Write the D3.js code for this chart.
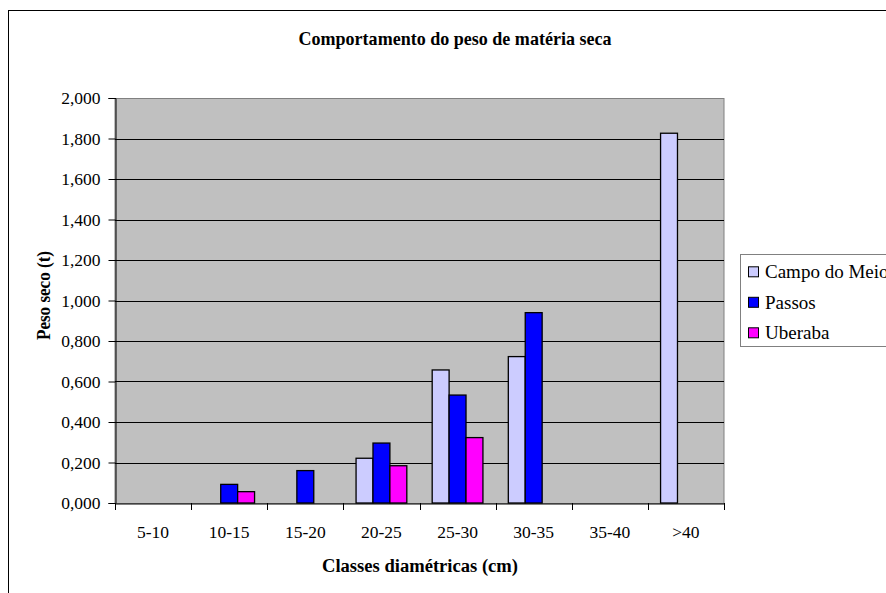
<!DOCTYPE html>
<html>
<head>
<meta charset="utf-8">
<script src="https://cdn.jsdelivr.net/npm/d3@7"></script>
<style>
  html, body { margin: 0; padding: 0; background: #fff; }
  svg { display: block; }
  svg text { font-family: "Liberation Serif", "DejaVu Serif", serif !important; }
</style>
</head>
<body>
<svg id="chart" width="886" height="593"></svg>
<script>
// Diameter classes and dry-matter weight (t) per site
const categories = ["5-10", "10-15", "15-20", "20-25", "25-30", "30-35", "35-40", ">40"];
const seriesNames = ["Campo do Meio", "Passos", "Uberaba"];
const campoDoMeio = [0, 0, 0, 0.221, 0.657, 0.723, 0, 1.826];
const passos      = [0, 0.092, 0.160, 0.296, 0.533, 0.940, 0, 0];
const uberaba     = [0, 0.056, 0, 0.184, 0.323, 0, 0, 0];
const yTicks = [0, 0.2, 0.4, 0.6, 0.8, 1.0, 1.2, 1.4, 1.6, 1.8, 2.0];
const colors = ["#CCCCFF", "#0000FF", "#FF00FF"];

const values = [campoDoMeio, passos, uberaba];

const svg = d3.select("#chart");

// outer chart frame
svg.append("rect")
  .attr("x", 8.5).attr("y", 10.5)
  .attr("width", 900).attr("height", 700)
  .attr("fill", "#fff").attr("stroke", "#000").attr("stroke-width", 1);

const plot = { left: 115, right: 724, top: 98, bottom: 503 };

const x = d3.scaleBand().domain(categories).range([plot.left, plot.right]);
const y = d3.scaleLinear().domain([0, 2]).range([plot.bottom, plot.top]);

// gap between groups is 1.5 bar widths
const barW = x.bandwidth() / (seriesNames.length + 1.5);
const xs = d3.scaleBand().domain(seriesNames)
  .range([0, barW * seriesNames.length]);

// plot background
svg.append("rect")
  .attr("x", plot.left).attr("y", plot.top + 0.5)
  .attr("width", plot.right - plot.left).attr("height", plot.bottom - plot.top)
  .attr("fill", "#C0C0C0").attr("stroke", "#808080").attr("stroke-width", 1);

// horizontal gridlines
svg.append("g").selectAll("line").data(yTicks.filter(d => d > 0 && d < 2))
  .join("line")
  .attr("x1", plot.left).attr("x2", plot.right)
  .attr("y1", d => Math.round(y(d)) + 0.5).attr("y2", d => Math.round(y(d)) + 0.5)
  .attr("stroke", "#000").attr("stroke-width", 1);

// bars
const groupOffset = (x.bandwidth() - barW * seriesNames.length) / 2;
seriesNames.forEach((name, si) => {
  svg.append("g").selectAll("rect")
    .data(categories.map((c, i) => ({ c, v: values[si][i] })).filter(d => d.v > 0))
    .join("rect")
    .attr("x", d => x(d.c) + groupOffset + xs(name))
    .attr("y", d => y(d.v))
    .attr("width", barW)
    .attr("height", d => y(0) - y(d.v))
    .attr("fill", colors[si])
    .attr("stroke", "#000")
    .attr("stroke-width", 1.3);
});

// y axis (decimal comma)
const yAxis = d3.axisLeft(y).tickValues(yTicks)
  .tickFormat(d => d.toFixed(3).replace(".", ","))
  .tickSize(7).tickPadding(8);
const gy = svg.append("g").attr("transform", `translate(${plot.left + 0.5},0)`).call(yAxis);
gy.selectAll("text").style("font-size", "17.5px");
gy.select(".domain").attr("stroke", "#000");
gy.selectAll(".tick line").attr("stroke", "#000");

// x axis
const xAxis = d3.axisBottom(x).tickSize(0).tickPadding(22.5);
const gx = svg.append("g").attr("transform", `translate(0,${plot.bottom + 0.5})`).call(xAxis);
gx.selectAll("text").style("font-size", "17.5px");
gx.select(".domain").attr("stroke", "#000");
// category boundary ticks
svg.append("g").selectAll("line")
  .data(categories.concat([null]))
  .join("line")
  .attr("x1", (d, i) => Math.round(i < categories.length ? x(d) : plot.right) + 0.5)
  .attr("x2", (d, i) => Math.round(i < categories.length ? x(d) : plot.right) + 0.5)
  .attr("y1", plot.bottom).attr("y2", plot.bottom + 7)
  .attr("stroke", "#000");

// titles
svg.append("text")
  .attr("x", 455).attr("y", 45)
  .attr("text-anchor", "middle")
  .attr("textLength", 313).attr("lengthAdjust", "spacingAndGlyphs")
  .style("font-size", "19px").style("font-weight", "bold")
  .text("Comportamento do peso de matéria seca");

svg.append("text")
  .attr("x", 420).attr("y", 572)
  .attr("text-anchor", "middle")
  .attr("textLength", 196).attr("lengthAdjust", "spacingAndGlyphs")
  .style("font-size", "18.5px").style("font-weight", "bold")
  .text("Classes diamétricas (cm)");

svg.append("text")
  .attr("transform", "translate(49.5,295.5) rotate(-90)")
  .attr("text-anchor", "middle")
  .attr("textLength", 89).attr("lengthAdjust", "spacingAndGlyphs")
  .style("font-size", "18.5px").style("font-weight", "bold")
  .text("Peso seco (t)");

// legend
const legend = svg.append("g");
legend.append("rect")
  .attr("x", 740.5).attr("y", 254.5).attr("width", 200).attr("height", 92)
  .attr("fill", "#fff").attr("stroke", "#808080");
seriesNames.forEach((name, i) => {
  const base = 278.3 + i * 30.5;
  legend.append("rect")
    .attr("x", 748.5).attr("y", base - 11.5).attr("width", 10).attr("height", 10)
    .attr("fill", colors[i]).attr("stroke", "#000");
  legend.append("text")
    .attr("x", 765).attr("y", base)
    .style("font-size", "19px")
    .text(name);
});
</script>
</body>
</html>
